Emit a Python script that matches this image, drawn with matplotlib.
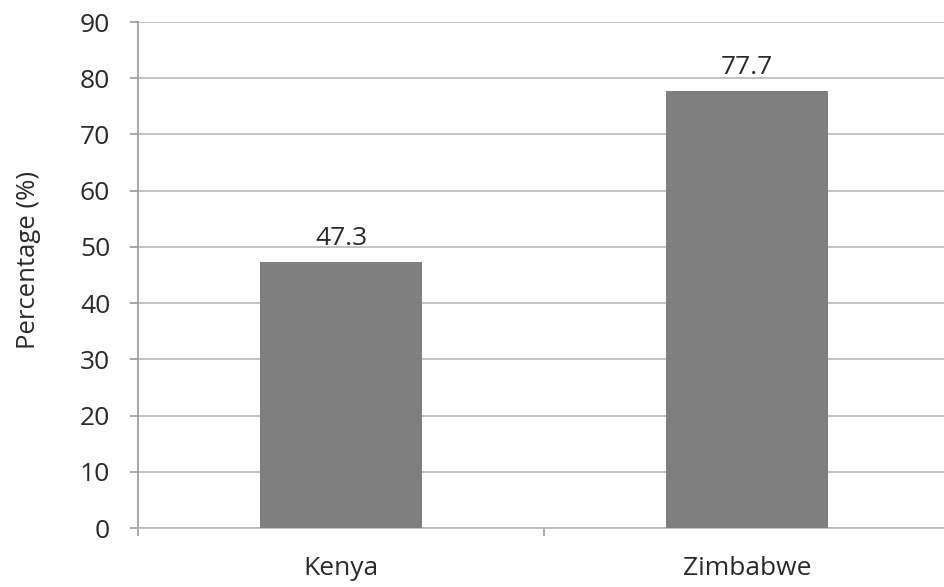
import matplotlib
matplotlib.use('Agg')
import matplotlib.pyplot as plt

countries = ['Kenya', 'Zimbabwe']
percentages = [47.3, 77.7]
y_ticks = [0, 10, 20, 30, 40, 50, 60, 70, 80, 90]

plt.rcParams['font.family'] = ['Open Sans', 'DejaVu Sans']
text_color = '#2a2a2a'

fig = plt.figure(figsize=(9.44, 5.87), dpi=100)
# plot area runs past the right edge, as in the source image
ax = fig.add_axes([138 / 944, (587 - 528) / 587, (950 - 138) / 944, (528 - 22) / 587])

x = list(range(len(countries)))
ax.bar(x, percentages, width=0.4, color='#7f7f7f', zorder=3)

for xi, v in zip(x, percentages):
    ax.annotate('%.1f' % v, (xi, v), xytext=(0, 8), textcoords='offset points',
                ha='center', va='bottom', fontsize=19, color=text_color)

ax.set_xlim(-0.5, 1.5)
ax.set_ylim(0, 90)
ax.set_yticks(y_ticks)
ax.set_xticks([-0.5, 0.5, 1.5], minor=False)
ax.set_xticklabels([])
ax.set_xticks(x, minor=True)
ax.set_xticklabels(countries, minor=True)

ax.grid(axis='y', color='#b8b8b8', linewidth=1.2, zorder=0)
for s in ['top', 'right']:
    ax.spines[s].set_visible(False)
ax.spines['left'].set_color('#999999')
ax.spines['bottom'].set_color('#b8b8b8')
ax.spines['left'].set_linewidth(1.2)
ax.spines['bottom'].set_linewidth(1.2)

ax.tick_params(axis='y', which='major', length=6, width=1.2, color='#999999',
               pad=14, labelsize=19, labelcolor=text_color)
ax.tick_params(axis='x', which='major', length=6, width=1.2, color='#999999')
ax.tick_params(axis='x', which='minor', length=0, pad=20, labelsize=19,
               labelcolor=text_color)

ax.set_ylabel('Percentage (%)', fontsize=18.5, color=text_color)
ax.yaxis.set_label_coords(-0.119, 0.53)

fig.savefig('out.png', dpi=100)
